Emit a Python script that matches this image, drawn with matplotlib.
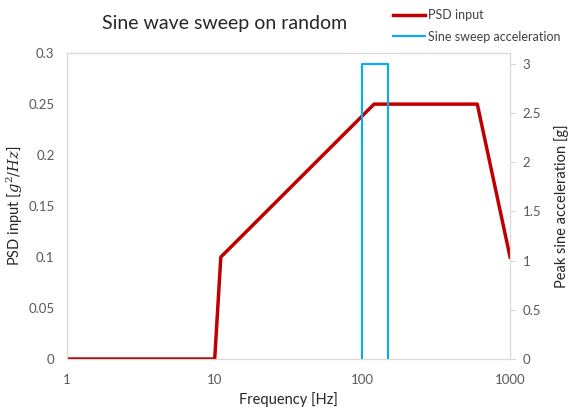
import matplotlib
matplotlib.use("Agg")
import matplotlib.pyplot as plt

psd_freq = [1, 10, 11, 120, 600, 1000]
psd_vals = [0, 0, 0.1, 0.25, 0.25, 0.1]
sine_freq = [100, 100, 150, 150]
sine_vals = [0, 3, 3, 0]
x_ticks = [1, 10, 100, 1000]
left_ticks = [0, 0.05, 0.1, 0.15, 0.2, 0.25, 0.3]
right_ticks = [0, 0.5, 1, 1.5, 2, 2.5, 3]

plt.rcParams['font.family'] = ['Lato', 'DejaVu Sans']
plt.rcParams['mathtext.fontset'] = 'dejavuserif'
fig = plt.figure(figsize=(5.68, 4.12), dpi=100)
ax = fig.add_axes([0.118, 0.1286, 0.78, 0.7424])
ax2 = ax.twinx()

l1, = ax.plot(psd_freq, psd_vals, color='#C00000', lw=2.5, label='PSD input', zorder=3)
l2, = ax2.plot(sine_freq, sine_vals, color='#00B0F0', lw=1.5, label='Sine sweep acceleration')

ax.set_xscale('log')
ax.set_xlim(1, 1000)
ax.set_ylim(0, 0.3)
ax2.set_ylim(0, 3.11)
ax.set_xticks(x_ticks)
ax.set_xticklabels([str(t) for t in x_ticks])
ax.minorticks_off()
ax.set_yticks(left_ticks)
ax.set_yticklabels(['0', '0.05', '0.1', '0.15', '0.2', '0.25', '0.3'])
ax2.set_yticks(right_ticks)
ax2.set_yticklabels(['0', '0.5', '1', '1.5', '2', '2.5', '3'])

gray = '#D9D9D9'
for a in (ax, ax2):
    for s in a.spines.values():
        s.set_color(gray)
    a.tick_params(colors='#595959', labelsize=9.5)
ax.tick_params(axis='x', length=0, pad=11)
ax.tick_params(axis='y', length=0, pad=9)
ax2.tick_params(axis='y', length=4, color=gray, pad=5)
ax.spines['top'].set_color('#A6A6A6')

ax.set_xlabel('Frequency [Hz]', fontsize=10.5, color='#262626')
ax.set_ylabel('PSD input [$g^2/Hz$]', fontsize=10.5, color='#262626', labelpad=2)
ax2.set_ylabel('Peak sine acceleration [g]', fontsize=10.5, color='#262626', labelpad=9)

fig.text(0.396, 0.944, 'Sine wave sweep on random', fontsize=14, ha='center', va='center', color='#262626')

fig.legend(handles=[l1, l2], loc='upper left', bbox_to_anchor=(0.672, 1.005), frameon=False,
           fontsize=9, handlelength=2.6, handletextpad=0.2, labelspacing=0.75, labelcolor='#404040')

fig.savefig('out.png', dpi=100)
